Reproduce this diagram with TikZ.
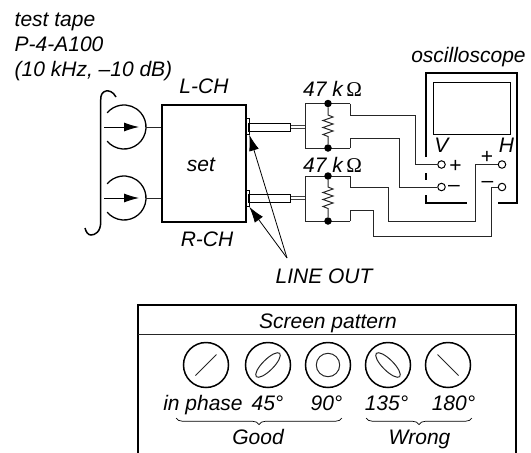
\documentclass[tikz,border=0pt]{standalone}
\usepackage{fontspec}
\setmainfont{Liberation Sans}
\newfontfamily\omegafont{Liberation Serif}
\usetikzlibrary{arrows.meta,decorations.pathreplacing}
\tikzset{
  x=1pt,y=-1pt,
  lab/.style={inner sep=0pt,anchor=base,font=\fontsize{21}{24}\selectfont\itshape},
  sym/.style={inner sep=0pt,font=\fontsize{21}{24}\selectfont},
  wire/.style={line width=1pt,black!85},
  thin wire/.style={line width=0.8pt,black!75},
  heavy/.style={line width=2pt},
  boxline/.style={line width=1.5pt},
  term/.style={circle,draw,line width=1pt,minimum size=7.5pt,inner sep=0pt,fill=white},
  dotn/.style={circle,fill=black,minimum size=7.5pt,inner sep=0pt},
  scr/.style={circle,draw,line width=1.5pt,minimum size=45pt,inner sep=0pt},
  headtip/.style={-{Latex[length=15pt,width=9pt]},line width=0.9pt},
  pointer/.style={-{Latex[length=16pt,width=10pt]},line width=0.8pt},
  bracep/.style={decorate,decoration={brace,amplitude=6.5pt},line width=0.7pt},
}
\begin{document}
\begin{tikzpicture}
\useasboundingbox (0,0) rectangle (531,453);
% texts top
\node[lab,anchor=base west] (t1) at (14.5,26) {test tape};
\node[lab,anchor=base west] (t2) at (14.5,51) {P-4-A100};
\node[lab,anchor=base west] (t3) at (14.5,76) {(10 kHz, --10 dB)};
\node[lab] (osc) at (468.5,62) {oscilloscope};
% tape
\draw[line width=1.5pt] (116,97) .. controls (113,91) and (108,90.5) .. (106,91) .. controls (102,92) and (100.7,95) .. (100.7,100) -- (100.7,222) .. controls (100.7,232) and (95,235) .. (91,235) .. controls (88,235) and (86,232) .. (85,228);
% heads
\coordinate (h1) at (124,127);
\coordinate (h2) at (124,198);
\draw[line width=1.3pt] (h1) ++(140:22) arc[start angle=140,end angle=-140,radius=22];
\draw[line width=1.3pt] (h2) ++(140:22) arc[start angle=140,end angle=-140,radius=22];
\coordinate (a1) at (104,127); \coordinate (a2) at (104,198);
\coordinate (b1) at (139,127); \coordinate (b2) at (139,198);
\draw[headtip] (a1) -- (b1);
\draw[headtip] (a2) -- (b2);
% set
\node[draw,boxline,minimum width=84pt,minimum height=117pt,inner sep=0pt,anchor=north west] (set) at (161,104) {};
\node[lab] (settext) at (201,171) {set};
\node[lab] (lch) at (204,93) {L-CH};
\node[lab] (rch) at (207,246) {R-CH};
\coordinate (s1) at (146,127); \coordinate (s2) at (146,198);
\draw[wire] (s1) -- (set.west |- s1);
\draw[wire] (s2) -- (set.west |- s2);
% sockets and plugs
\foreach \n/\y in {p/118,q/190}{
  \node[draw,line width=0.8pt,minimum width=3.5pt,minimum height=16pt,inner sep=0pt,anchor=north west] (\n s) at (245,\y) {};
}
\node[draw,line width=0.8pt,minimum width=42pt,minimum height=8pt,inner sep=0pt,anchor=north west] (pl) at (248,123) {};
\node[draw,line width=0.8pt,minimum width=42pt,minimum height=8pt,inner sep=0pt,anchor=north west] (ql) at (248,194) {};
% resistor networks
\coordinate (r1tl) at (305,103.5); \coordinate (r1tr) at (350,103.5);
\coordinate (r1bl) at (305,148); \coordinate (r1br) at (350,148);
\coordinate (r2tl) at (305,176); \coordinate (r2tr) at (350,176);
\coordinate (r2bl) at (305,221); \coordinate (r2br) at (350,221);
\draw[thin wire] (pl.east |- 0,125.5) -- (305,125.5);
\draw[thin wire] (pl.east |- 0,128.5) -- (305,128.5);
\draw[thin wire] (ql.east |- 0,196.5) -- (305,196.5);
\draw[thin wire] (ql.east |- 0,199.5) -- (305,199.5);
\draw[wire] (r1tl) -- (r1bl) -- (r1br);
\draw[wire] (r1tl) -- (r1tr);
\draw[wire] (r2tl) -- (r2bl) -- (r2br);
\draw[wire] (r2tl) -- (r2tr);
\node[dotn] (d1) at (328,103.5) {};
\node[dotn] (d2) at (328,148) {};
\node[dotn] (d3) at (328,176) {};
\node[dotn] (d4) at (328,221) {};
\draw[wire] (d1) -- (328,115) -- (333,117) -- (323,120.5) -- (333,124) -- (323,127.5) -- (333,131) -- (323,134.5) -- (328,136.5) -- (d2);
\draw[wire] (d3) -- (328,187) -- (333,189) -- (323,192.5) -- (333,196) -- (323,199.5) -- (333,203) -- (323,206.5) -- (328,208.5) -- (d4);
\node[lab,anchor=base west] (k1) at (303,96) {47 k\,{\upshape\omegafont Ω}};
\node[lab,anchor=base west] (k2) at (303,172) {47 k\,{\upshape\omegafont Ω}};
% terminals
\node[term] (vp) at (441.5,164.5) {};
\node[term] (vm) at (441.5,187) {};
\node[term] (hp) at (502,164.5) {};
\node[term] (hm) at (502,187) {};
% wires
\draw[wire] (r1tr) -- (350,115) -- (415,115) -- (415,164.5) -- (vp);
\draw[wire] (r1br) -- (350,138) -- (399,138) -- (399,187) -- (vm);
\draw[wire] (r2tr) -- (350,187) -- (388,187) -- (388,221) -- (475,221) -- (475,164.5) -- (hp);
\draw[wire] (r2br) -- (350,210) -- (373,210) -- (373,236) -- (491,236) -- (491,187) -- (hm);
% oscilloscope
\draw[heavy] (426,157) -- (426,73) -- (517,73) -- (517,203) -- (498,203);
\draw[heavy] (426,173) -- (426,180);
\draw[heavy] (426,195) -- (426,203) -- (467,203);
\node[draw,line width=1pt,minimum width=77pt,minimum height=52pt,inner sep=0pt,anchor=north west] (screen) at (433,82) {};
\node[lab] (v) at (441.5,152) {V};
\node[lab] (h) at (506.5,152) {H};
\node[sym] (plusv) at (455.5,166) {+};
\node[sym] (minusv) at (454,188) {--};
\node[sym] (plush) at (487,157.5) {+};
\node[sym] (minush) at (487.5,184.5) {--};
% LINE OUT
\node[lab] (lo) at (324,283) {LINE OUT};
\coordinate (lo1) at (287,258);
\draw[pointer] (lo1) -- (ps.south east);
\draw[pointer] (lo1) -- (qs.south east);
% table
\coordinate (tbl) at (138,453); \coordinate (tbr) at (516,453);
\draw[boxline] (tbl) -- (138,305) -- (516,305) -- (tbr);
\coordinate (hl) at (138,334); \coordinate (hr) at (516,334);
\draw[wire] (hl) -- (hr);
\node[lab] (sp) at (328,328) {Screen pattern};
\node[scr] (c1) at (206,365) {};
\node[scr] (c2) at (268,365) {};
\node[scr] (c3) at (328,365) {};
\node[scr] (c4) at (388,365) {};
\node[scr] (c5) at (448,365) {};
\draw[wire] ([shift={(-10.5,10.5)}]c1.center) -- ([shift={(10.5,-10.5)}]c1.center);
\draw[wire,rotate around={45:(c2.center)}] (c2.center) ellipse[x radius=16.5,y radius=5.5];
\draw[wire] (c3.center) circle[radius=11.7];
\draw[wire,rotate around={-45:(c4.center)}] (c4.center) ellipse[x radius=16.5,y radius=5.5];
\draw[wire] ([shift={(-10.5,-10.5)}]c5.center) -- ([shift={(10.5,10.5)}]c5.center);
\node[lab] (l1) at (203,410) {in phase};
\node[lab] (l2) at (267.5,410) {45°};
\node[lab] (l3) at (326.5,410) {90°};
\node[lab] (l4) at (386.5,410) {135°};
\node[lab] (l5) at (453.5,410) {180°};
\coordinate (br1a) at (176,418); \coordinate (br1b) at (342,418);
\coordinate (br2a) at (366,418); \coordinate (br2b) at (472,418);
\draw[bracep] (br1b) -- (br1a);
\draw[bracep] (br2b) -- (br2a);
\node[lab] (good) at (258,444) {Good};
\node[lab] (wrong) at (419.5,444) {Wrong};
\end{tikzpicture}
\end{document}
